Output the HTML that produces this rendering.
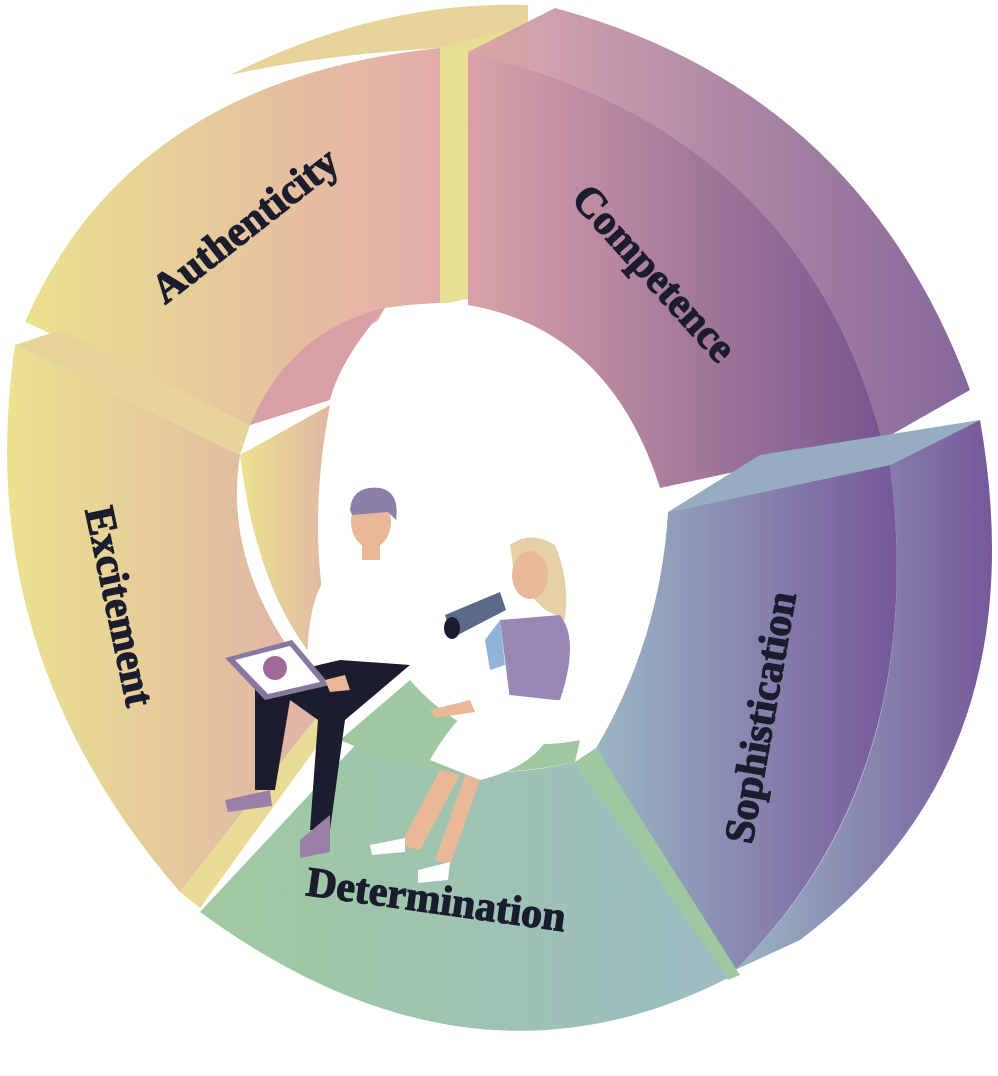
<!DOCTYPE html>
<html><head><meta charset="utf-8"><style>
html,body{margin:0;padding:0;background:#fff;}
svg{display:block}
text{font-family:"Liberation Serif",serif;font-weight:bold;fill:#1b1d2e;stroke:#1b1d2e;stroke-width:1.2;font-size:42px;}
</style></head><body>
<svg width="998" height="1076" viewBox="0 0 998 1076" xmlns="http://www.w3.org/2000/svg">
<defs>
<linearGradient id="gA" x1="0" x2="1"><stop offset="0" stop-color="#eae28f"/><stop offset="1" stop-color="#e2aca9"/></linearGradient>
<linearGradient id="gC" x1="0" x2="1"><stop offset="0" stop-color="#d9a2a8"/><stop offset="1" stop-color="#77568f"/></linearGradient>
<linearGradient id="gS" x1="0" x2="1"><stop offset="0" stop-color="#9ab6c4"/><stop offset="1" stop-color="#76589a"/></linearGradient>
<linearGradient id="gD" x1="0" x2="1"><stop offset="0" stop-color="#9fca9f"/><stop offset="1" stop-color="#9dbcc4"/></linearGradient>
<linearGradient id="gE" x1="0" x2="1"><stop offset="0" stop-color="#ebe28f"/><stop offset="1" stop-color="#dfb0a8"/></linearGradient>
</defs>

<path d="M230,75 Q380,0 528,5 L528,30 L440,48 Q320,55 230,75 Z" fill="#e8d49a"/>
<path d="M440,48 L528,25 L528,285 L440,305 Z" fill="#e8df94"/>
<path d="M25,322 Q130,80 440,48 L440,303 Q380,305 330,360 Q270,420 250,425 Z" fill="url(#gA)"/>
<path d="M250,425 Q290,330 385,308 Q340,360 330,400 Z" fill="#d8a0a4"/>

<path d="M468,52 L555,8 Q860,90 970,390 L882,440 Q800,130 468,52 Z" fill="url(#gC)" opacity="0.9"/>
<path d="M468,52 Q800,130 882,440 L660,488 Q610,330 468,305 Z" fill="url(#gC)"/>

<path d="M890,465 L980,420 Q1040,760 800,940 L735,970 Q930,780 890,465 Z" fill="url(#gS)"/>
<path d="M668,512 L890,465 L980,420 L760,455 Z" fill="#96acc0"/>
<path d="M668,512 L890,465 Q930,780 733,972 L596,748 Q660,640 668,512 Z" fill="url(#gS)"/>

<path d="M575,762 L596,748 L740,975 L728,980 Z" fill="#a0c8a0"/>
<path d="M200,912 L360,740 Q460,790 575,762 L728,978 Q470,1110 200,912 Z" fill="url(#gD)"/>
<path d="M340,740 L410,680 Q480,760 580,740 L575,762 Q450,790 340,740 Z" fill="#a0c8a0"/>

<path d="M15,345 L60,330 L250,425 L240,455 Z" fill="#e6d49a"/>
<path d="M15,345 L240,455 Q220,580 330,700 L180,892 Q-30,650 15,345 Z" fill="url(#gE)"/>
<path d="M240,455 L330,405 Q300,560 345,690 Q260,620 240,455 Z" fill="url(#gE)"/>
<path d="M180,892 L330,700 L340,715 L200,908 Z" fill="#e8dc96"/>

<path d="M385,308 Q440,300 468,305 Q610,330 660,488 L668,512 Q660,640 596,748 L580,740 Q480,760 410,680 Q320,600 325,470 Q330,400 385,308 Z" fill="#fff"/>

<path d="M310,700 Q300,610 330,570 L390,550 Q420,560 410,620 L400,660 L340,680 Z" fill="#fff"/>
<path d="M255,680 L340,660 L410,665 L345,720 L330,830 L310,830 L318,720 L290,700 L275,790 L255,790 Z" fill="#1b1d2e"/>
<path d="M225,800 L270,790 L272,806 L228,812 Z" fill="#9a80a8"/>
<path d="M300,840 L330,815 L330,852 L300,858 Z" fill="#9a80a8"/>
<ellipse cx="371" cy="522" rx="20" ry="26" fill="#e9b898"/>
<path d="M350,510 Q352,485 380,488 Q400,492 396,520 L388,512 L352,515 Z" fill="#8a80a8"/>
<rect x="362" y="540" width="18" height="20" fill="#e9b898"/>
<path d="M225,658 L292,640 L330,685 L265,700 Z" fill="#8878a0"/>
<path d="M235,660 L290,646 L320,682 L268,694 Z" fill="#fff"/>
<circle cx="275" cy="668" r="12" fill="#a06a9a"/>
<path d="M325,680 L345,675 L350,690 L330,692 Z" fill="#e9b898"/>

<path d="M510,545 Q530,530 555,545 Q570,580 565,620 L545,610 L515,580 Z" fill="#e6d0a8"/>
<ellipse cx="530" cy="575" rx="18" ry="24" fill="#e9b898"/>
<path d="M500,620 L560,615 Q580,640 560,700 L510,700 Z" fill="#9a88b4"/>
<path d="M485,640 L500,620 L505,665 L490,670 Z" fill="#8fb4d8"/>
<path d="M430,760 Q470,690 510,695 L555,700 Q560,760 480,780 Z" fill="#fff"/>
<path d="M440,770 L460,775 L420,850 L400,845 Z" fill="#e9b898"/>
<path d="M465,775 L480,780 L450,865 L435,860 Z" fill="#e9b898"/>
<path d="M370,845 L405,838 L405,852 L372,855 Z" fill="#fff"/>
<path d="M418,870 L450,862 L448,880 L418,883 Z" fill="#fff"/>
<path d="M445,615 L500,592 L506,610 L452,638 Z" fill="#5a6a88"/>
<ellipse cx="452" cy="628" rx="8" ry="11" fill="#1b1d2e"/>
<path d="M430,710 L470,700 L475,712 L435,718 Z" fill="#e9b898"/>

<text transform="translate(165,305) rotate(-38)">Authenticity</text>
<text transform="translate(570,200) rotate(48)">Competence</text>
<text transform="translate(752,845) rotate(-80)">Sophistication</text>
<text transform="translate(305,895) rotate(8)">Determination</text>
<text transform="translate(85,510) rotate(78)">Excitement</text>
</svg>
</body></html>
